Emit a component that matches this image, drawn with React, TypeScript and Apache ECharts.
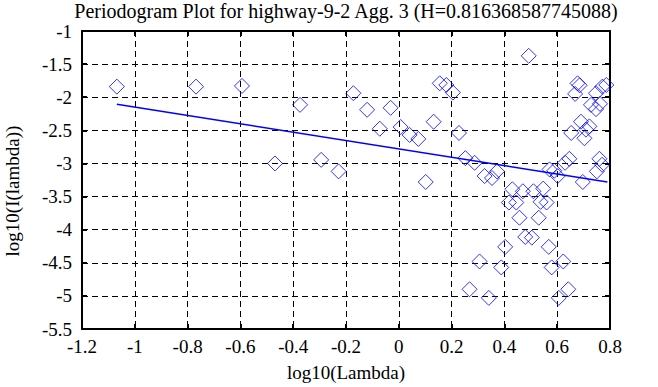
import React, { useEffect, useRef } from "react";
import * as echarts from "echarts";

const titleText = "Periodogram Plot for highway-9-2 Agg. 3 (H=0.816368587745088)";
const xName = "log10(Lambda)";
const yName = "log10(I(lambda))";

const xRange = [-1.2, 0.8];
const yRange = [-5.5, -1];

const logLambda = [
  -1.068, -0.768, -0.594, -0.469, -0.374, -0.294, -0.228, -0.172, -0.12, -0.072,
  -0.031, 0.007, 0.041, 0.074, 0.102, 0.132, 0.155, 0.18, 0.205, 0.228,
  0.252, 0.287, 0.325, 0.353, 0.372, 0.492, 0.43, 0.47, 0.51, 0.547,
  0.417, 0.445, 0.537, 0.56, 0.457, 0.53, 0.479, 0.504, 0.403, 0.568,
  0.306, 0.388, 0.579, 0.623, 0.268, 0.341, 0.606, 0.642, 0.677, 0.685,
  0.668, 0.747, 0.771, 0.786, 0.728, 0.747, 0.762, 0.69, 0.722, 0.709,
  0.653, 0.703, 0.646, 0.63, 0.76, 0.77, 0.75, 0.589, 0.571, 0.602,
  0.697,
];
const logPower = [
  -1.84, -1.84, -1.83, -3.0, -2.115, -2.946, -3.12, -1.94, -2.19, -2.476,
  -2.16, -2.45, -2.57, -2.63, -3.28, -2.37, -1.79, -1.815, -1.93, -2.54,
  -2.92, -2.99, -3.19, -3.22, -3.12, -1.375, -3.39, -3.42, -3.42, -3.38,
  -3.59, -3.59, -3.58, -3.59, -3.82, -3.82, -4.11, -4.12, -4.26, -4.26,
  -4.48, -4.57, -4.57, -4.48, -4.9, -5.03, -5.03, -4.9, -1.79, -1.82,
  -1.95, -1.94, -1.84, -1.815, -2.115, -2.18, -2.1, -2.37, -2.44, -2.49,
  -2.54, -2.62, -2.93, -2.99, -2.93, -3.02, -3.12, -3.11, -3.09, -3.19,
  -3.28,
];
const fitX = [-1.068, 0.79];
const fitY = [-2.105, -3.281];

const serif = "'Liberation Serif', 'Times New Roman', serif";

export default function App() {
  const ref = useRef<HTMLDivElement>(null);
  useEffect(() => {
    if (!ref.current) return;
    const chart = echarts.init(ref.current, undefined, { renderer: "svg" });
    const points = logLambda.map((x, i) => [x, logPower[i]]);
    const fit = fitX.map((x, i) => [x, fitY[i]]);
    const axisLine = { show: true, onZero: false, lineStyle: { color: "#000", width: 2 } };
    const tick = { show: true, inside: true, length: 5, lineStyle: { color: "#000", width: 2 } };
    const split = { show: true, lineStyle: { color: "#000", width: 1, type: [6, 4] as any } };
    const label = { color: "#000", fontFamily: serif, fontSize: 19 };
    chart.setOption({
      animation: false,
      backgroundColor: "#fff",
      graphic: [
        {
          type: "text",
          x: 346,
          y: 11,
          style: {
            text: titleText,
            fill: "#000",
            font: `20px ${serif}`,
            textAlign: "center",
            textVerticalAlign: "middle",
          },
        },
        {
          type: "text",
          x: 12,
          y: 191,
          rotation: Math.PI / 2,
          style: {
            text: yName,
            fill: "#000",
            font: `19px ${serif}`,
            textAlign: "center",
            textVerticalAlign: "middle",
          },
        },
      ],
      grid: { left: 82, right: 48, top: 31, bottom: 56 },
      xAxis: [
        {
          type: "value",
          position: "bottom",
          min: xRange[0],
          max: xRange[1],
          interval: 0.2,
          axisLine,
          axisTick: tick,
          splitLine: split,
          axisLabel: { ...label, margin: 8 },
          name: xName,
          nameLocation: "middle",
          nameGap: 34,
          nameTextStyle: { ...label },
        },
        {
          type: "value",
          position: "top",
          min: xRange[0],
          max: xRange[1],
          interval: 0.2,
          axisLine,
          axisTick: tick,
          splitLine: { show: false },
          axisLabel: { show: false },
        },
      ],
      yAxis: [
        {
          type: "value",
          position: "left",
          min: yRange[0],
          max: yRange[1],
          interval: 0.5,
          axisLine,
          axisTick: tick,
          splitLine: split,
          axisLabel: { ...label, margin: 10, padding: [8, 0, 0, 0] },
        },
        {
          type: "value",
          position: "right",
          min: yRange[0],
          max: yRange[1],
          interval: 0.5,
          axisLine,
          axisTick: tick,
          splitLine: { show: false },
          axisLabel: { show: false },
        },
      ],
      series: [
        {
          type: "scatter",
          data: points,
          symbol: "diamond",
          symbolSize: 15,
          itemStyle: { color: "transparent", borderColor: "#0000ff", borderWidth: 1 },
        },
        {
          type: "line",
          data: fit,
          symbol: "none",
          lineStyle: { color: "#0000ff", width: 1.5 },
        },
      ],
    });
    return () => chart.dispose();
  }, []);
  return (
    <div
      ref={ref}
      style={{ position: "fixed", left: 0, top: 0, width: 658, height: 387, background: "#fff" }}
    />
  );
}
